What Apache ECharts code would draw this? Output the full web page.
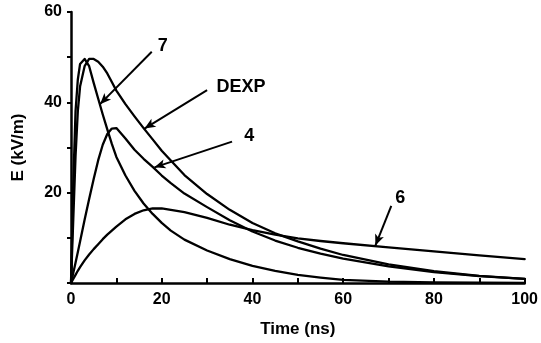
<!DOCTYPE html>
<html>
<head>
<meta charset="utf-8">
<script src="https://cdn.jsdelivr.net/npm/echarts@6/dist/echarts.min.js"></script>
<style>
html,body{margin:0;padding:0;background:#fff;}
#chart{width:541px;height:343px;}
</style>
</head>
<body>
<div id="chart"></div>
<script>
// Time samples (ns)
const time = [0, 0.5, 1, 1.5, 2, 3, 4, 5, 6, 7, 8, 9, 10, 12, 14, 16, 18, 20, 22, 25, 30, 35, 40, 45, 50, 55, 60, 70, 80, 90, 100];
// E (kV/m) for each waveform
const curve7 = [0, 22, 38, 45, 48.5, 49.6, 48, 44.3, 40.8, 37.3, 34, 30.8, 27.9, 23.8, 20.4, 17.6, 15.3, 13.3, 11.6, 9.6, 7.2, 5.3, 3.8, 2.7, 1.8, 1.2, 0.7, 0.3, 0.15, 0.05, 0];
const curveDEXP = [0, 14, 28, 38, 43.5, 48, 49.6, 49.6, 49, 47.9, 46.4, 44.5, 42.6, 39.6, 36.9, 34.3, 31.8, 29.3, 27.1, 23.9, 19.7, 16.2, 13.3, 11, 9.2, 7.6, 6.2, 4.1, 2.6, 1.6, 0.9];
const curve4 = [0, 2.2, 4.5, 6.8, 9.2, 14, 18.6, 23, 27.2, 30.6, 33, 34.2, 34.3, 32, 29.5, 27.5, 25.7, 23.8, 22.1, 19.8, 16.8, 13.9, 11.4, 9.4, 7.8, 6.5, 5.4, 3.7, 2.4, 1.5, 0.9];
const curve6 = [0, 0.9, 1.8, 2.7, 3.5, 5.0, 6.3, 7.5, 8.6, 9.7, 10.7, 11.6, 12.5, 14.1, 15.3, 16.1, 16.5, 16.5, 16.2, 15.7, 14.4, 12.9, 11.7, 10.7, 9.9, 9.3, 8.8, 7.9, 7.0, 6.1, 5.3];
const seriesNames = ['7', 'DEXP', '4', '6'];
const xTicks = [0, 20, 40, 60, 80, 100];
const yTicks = [0, 20, 40, 60];

const FONT = '"Liberation Sans", Arial, sans-serif';
const pairs = arr => time.map((t, i) => [t, arr[i]]);

function arrowLine(from, to) {
  return {
    silent: true,
    symbol: ['none', 'arrow'],
    symbolSize: [7, 11],
    lineStyle: { color: '#000', width: 2, type: 'solid' },
    label: { show: false },
    data: [[{ coord: from }, { coord: to }]]
  };
}

const chart = echarts.init(document.getElementById('chart'), null, { renderer: 'canvas' });
const datasets = [curve7, curveDEXP, curve4, curve6];
const arrows = [
  { from: [17.8, 51.2], to: [6.4, 39.6] },
  { from: [30, 42.7], to: [16.2, 34.2] },
  { from: [35.5, 31.3], to: [18.4, 25.6] },
  { from: [70.6, 17.1], to: [67.1, 8.3] }
];
const labelPos = [[20.2, 52.4], [37.5, 43.4], [39.3, 32.5], [72.6, 18.8]];

const series = datasets.map((d, i) => ({
  name: seriesNames[i],
  type: 'line',
  data: pairs(d),
  showSymbol: false,
  smooth: false,
  lineStyle: { color: '#000', width: 2.3, join: 'round', cap: 'round' },
  z: 3,
  markLine: arrowLine(arrows[i].from, arrows[i].to),
  markPoint: {
    silent: true,
    symbol: 'circle',
    symbolSize: 1,
    itemStyle: { color: 'rgba(0,0,0,0)' },
    label: {
      show: true,
      formatter: seriesNames[i],
      color: '#000',
      fontFamily: FONT,
      fontWeight: 'bold',
      fontSize: 18,
      position: 'inside'
    },
    data: [{ coord: labelPos[i] }]
  }
}));

chart.setOption({
  animation: false,
  backgroundColor: '#fff',
  grid: { left: 71, right: 14, top: 12, bottom: 57, containLabel: false },
  xAxis: {
    type: 'value',
    min: 0, max: 100, interval: 20,
    name: 'Time (ns)',
    nameLocation: 'middle',
    nameGap: 38,
    nameTextStyle: { color: '#000', fontFamily: FONT, fontWeight: 'bold', fontSize: 17 },
    axisLine: { show: true, onZero: false, lineStyle: { color: '#000', width: 2.5 } },
    axisTick: { show: true, inside: true, length: 5, lineStyle: { color: '#000', width: 2 } },
    minorTick: { show: true, splitNumber: 2, length: 5, lineStyle: { color: '#000', width: 2 } },
    axisLabel: { color: '#000', fontFamily: FONT, fontWeight: 'bold', fontSize: 16, margin: 9,
      formatter: v => xTicks.includes(v) ? String(v) : '' },
    splitLine: { show: false }
  },
  yAxis: {
    type: 'value',
    min: 0, max: 60, interval: 20,
    name: 'E (kV/m)',
    nameLocation: 'middle',
    nameRotate: 90,
    nameGap: 44,
    nameTextStyle: { color: '#000', fontFamily: FONT, fontWeight: 'bold', fontSize: 17 },
    axisLine: { show: true, onZero: false, lineStyle: { color: '#000', width: 2.5 } },
    axisTick: { show: true, inside: false, length: 4, lineStyle: { color: '#000', width: 2 } },
    minorTick: { show: true, splitNumber: 2, length: 4, lineStyle: { color: '#000', width: 2 } },
    axisLabel: { color: '#000', fontFamily: FONT, fontWeight: 'bold', fontSize: 16, margin: 9,
      formatter: v => (yTicks.includes(v) && v !== 0) ? String(v) : '' },
    splitLine: { show: false }
  },
  series: series
});
</script>
</body>
</html>
